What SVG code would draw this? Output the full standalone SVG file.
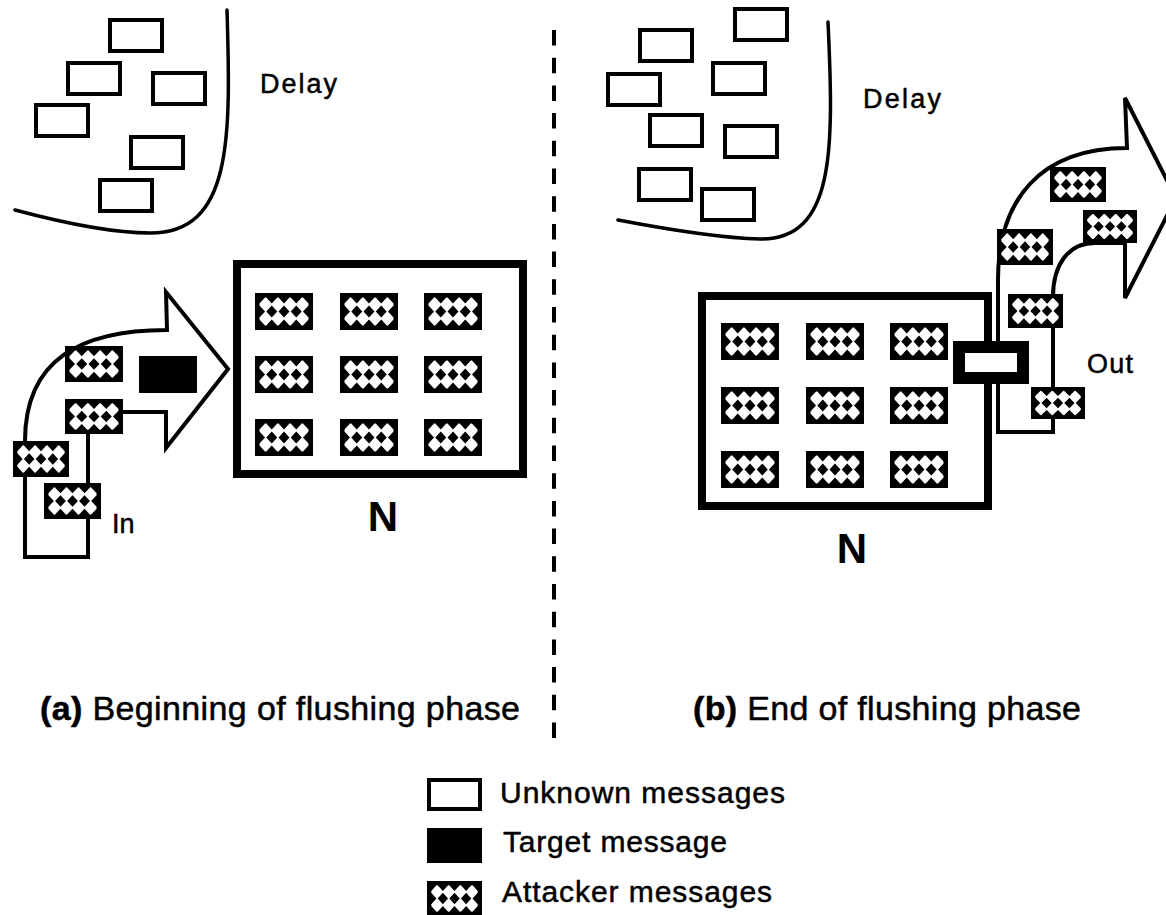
<svg xmlns="http://www.w3.org/2000/svg" width="1166" height="915" viewBox="0 0 1166 915">
  <style>
    .unk { fill: #fff; stroke: #000; stroke-width: 4; }
    .tgt { fill: #000; }
    .line { fill: none; stroke: #000; stroke-width: 4; stroke-linejoin: miter; }
    .delay { fill: none; stroke: #000; stroke-width: 3.5; stroke-linecap: round; }
    .mix { fill: none; stroke: #000; stroke-width: 8; }
    .lbl { font-family: "Liberation Sans", Arial, sans-serif; font-size: 27px; fill: #000; stroke: #000; stroke-width: 0.5; }
    .big { font-family: "Liberation Sans", Arial, sans-serif; font-size: 42px; font-weight: bold; fill: #000; }
    .cap { font-family: "Liberation Sans", Arial, sans-serif; font-size: 34px; fill: #000; stroke: #000; stroke-width: 0.5; }
    .leg { font-family: "Liberation Sans", Arial, sans-serif; font-size: 30px; fill: #000; stroke: #000; stroke-width: 0.5; }
  </style>
  <defs>
    <!-- attacker message: black frame, white cells cut by black diamonds -->
    <symbol id="atk" viewBox="0 0 58 37" preserveAspectRatio="none">
      <rect width="58" height="37" fill="#000"/>
      <rect x="4.5" y="4.5" width="49" height="28" fill="#fff"/>
      <path fill="#000" d="M-1,4.5 L4.5,-1.5 L10,4.5 L4.5,10.5Z M11.25,4.5 L16.75,-1.5 L22.25,4.5 L16.75,10.5Z M23.5,4.5 L29,-1.5 L34.5,4.5 L29,10.5Z M35.75,4.5 L41.25,-1.5 L46.75,4.5 L41.25,10.5Z M48,4.5 L53.5,-1.5 L59,4.5 L53.5,10.5Z
        M-1,18.5 L4.5,12.5 L10,18.5 L4.5,24.5Z M11.25,18.5 L16.75,12.5 L22.25,18.5 L16.75,24.5Z M23.5,18.5 L29,12.5 L34.5,18.5 L29,24.5Z M35.75,18.5 L41.25,12.5 L46.75,18.5 L41.25,24.5Z M48,18.5 L53.5,12.5 L59,18.5 L53.5,24.5Z
        M-1,32.5 L4.5,26.5 L10,32.5 L4.5,38.5Z M11.25,32.5 L16.75,26.5 L22.25,32.5 L16.75,38.5Z M23.5,32.5 L29,26.5 L34.5,32.5 L29,38.5Z M35.75,32.5 L41.25,26.5 L46.75,32.5 L41.25,38.5Z M48,32.5 L53.5,26.5 L59,32.5 L53.5,38.5Z"/>
    </symbol>
  </defs>

  <rect width="1166" height="915" fill="#fff"/>

  <!-- flow outlines -->
  <g id="connectors">
    <path id="flow-in" class="line" d="M25,557 L25,441 C25,360 80,330 167,330 L166,292 L228,369 L166,448 L166,412 L110,412 Q88,412 88,434 L88,557 Z"/>
    <path id="flow-out" class="line" d="M998,432 L998,280 C998,200 1040,148 1127,148 L1125,98 L1176,198 L1125,298 L1125,243 L1095,243 C1068,243 1053,265 1053,297 L1053,432 Z"/>
    <line id="divider" x1="554" y1="30" x2="554" y2="746" stroke="#000" stroke-width="4" stroke-dasharray="15.5 12.2"/>
  </g>

  <!-- (a) delay pool -->
  <g id="delay-a">
    <path class="delay" d="M227,10 C231,140 232,233 150,233 C110,233 60,222 15,210"/>
    <rect class="unk" x="110" y="20" width="52" height="31"/>
    <rect class="unk" x="68" y="63" width="52" height="31"/>
    <rect class="unk" x="153" y="73" width="52" height="31"/>
    <rect class="unk" x="36" y="105" width="52" height="31"/>
    <rect class="unk" x="131" y="137" width="52" height="31"/>
    <rect class="unk" x="100" y="180" width="52" height="31"/>
    <text class="lbl" x="260" y="93" textLength="77">Delay</text>
  </g>

  <!-- (a) incoming messages -->
  <g id="incoming">
    <use href="#atk" x="65" y="346" width="58" height="36"/>
    <use href="#atk" x="65" y="399" width="58" height="35"/>
    <use href="#atk" x="13" y="441" width="56" height="36"/>
    <use href="#atk" x="44" y="483" width="57" height="36"/>
    <rect class="tgt" x="139" y="356" width="58" height="37"/>
    <text class="lbl" x="112" y="533">In</text>
  </g>

  <!-- (a) mix node -->
  <g id="mix-a">
    <rect class="mix" x="237" y="264" width="286" height="210"/>
    <use href="#atk" x="255" y="293" width="58" height="37"/>
    <use href="#atk" x="340" y="293" width="58" height="37"/>
    <use href="#atk" x="424" y="293" width="58" height="37"/>
    <use href="#atk" x="255" y="356" width="58" height="37"/>
    <use href="#atk" x="340" y="356" width="58" height="37"/>
    <use href="#atk" x="424" y="356" width="58" height="37"/>
    <use href="#atk" x="255" y="419" width="58" height="37"/>
    <use href="#atk" x="340" y="419" width="58" height="37"/>
    <use href="#atk" x="424" y="419" width="58" height="37"/>
    <text class="big" x="383" y="531" text-anchor="middle">N</text>
  </g>

  <!-- (b) delay pool -->
  <g id="delay-b">
    <path class="delay" d="M828,22 C834,150 835,240 760,239 C720,238 660,228 618,220"/>
    <rect class="unk" x="735" y="9" width="52" height="31"/>
    <rect class="unk" x="640" y="30" width="52" height="31"/>
    <rect class="unk" x="608" y="74" width="52" height="31"/>
    <rect class="unk" x="713" y="63" width="52" height="31"/>
    <rect class="unk" x="650" y="115" width="52" height="31"/>
    <rect class="unk" x="725" y="126" width="52" height="31"/>
    <rect class="unk" x="639" y="169" width="52" height="31"/>
    <rect class="unk" x="702" y="189" width="52" height="31"/>
    <text class="lbl" x="863" y="108" textLength="78">Delay</text>
  </g>

  <!-- (b) mix node -->
  <g id="mix-b">
    <rect class="mix" x="702" y="296" width="286" height="210"/>
    <use href="#atk" x="721" y="323" width="58" height="37"/>
    <use href="#atk" x="806" y="323" width="58" height="37"/>
    <use href="#atk" x="890" y="323" width="58" height="37"/>
    <use href="#atk" x="721" y="387" width="58" height="37"/>
    <use href="#atk" x="806" y="387" width="58" height="37"/>
    <use href="#atk" x="890" y="387" width="58" height="37"/>
    <use href="#atk" x="721" y="451" width="58" height="37"/>
    <use href="#atk" x="806" y="451" width="58" height="37"/>
    <use href="#atk" x="890" y="451" width="58" height="37"/>
    <text class="big" x="852" y="563" text-anchor="middle">N</text>
  </g>

  <!-- (b) outgoing messages -->
  <g id="outgoing">
    <use href="#atk" x="997" y="229" width="56" height="36"/>
    <use href="#atk" x="1050" y="167" width="56" height="35"/>
    <use href="#atk" x="1083" y="210" width="54" height="33"/>
    <use href="#atk" x="1008" y="294" width="55" height="34"/>
    <use href="#atk" x="1031" y="387" width="54" height="32"/>
    <rect id="slot" x="959" y="347" width="64" height="31" fill="#fff" stroke="#000" stroke-width="12"/>
    <text class="lbl" x="1087" y="373" textLength="46">Out</text>
  </g>

  <!-- captions -->
  <g id="captions">
    <text class="cap" x="40" y="720" textLength="480"><tspan font-weight="bold">(a)</tspan> Beginning of flushing phase</text>
    <text class="cap" x="693" y="720" textLength="388"><tspan font-weight="bold">(b)</tspan> End of flushing phase</text>
  </g>

  <!-- legend -->
  <g id="legend">
    <rect class="unk" x="429" y="780" width="51" height="29"/>
    <text class="leg" x="500" y="803" textLength="285">Unknown messages</text>
    <rect class="tgt" x="427" y="828" width="55" height="35"/>
    <text class="leg" x="503" y="852" textLength="224">Target message</text>
    <use href="#atk" x="427" y="881" width="55" height="35"/>
    <text class="leg" x="502" y="902" textLength="270">Attacker messages</text>
  </g>
</svg>
